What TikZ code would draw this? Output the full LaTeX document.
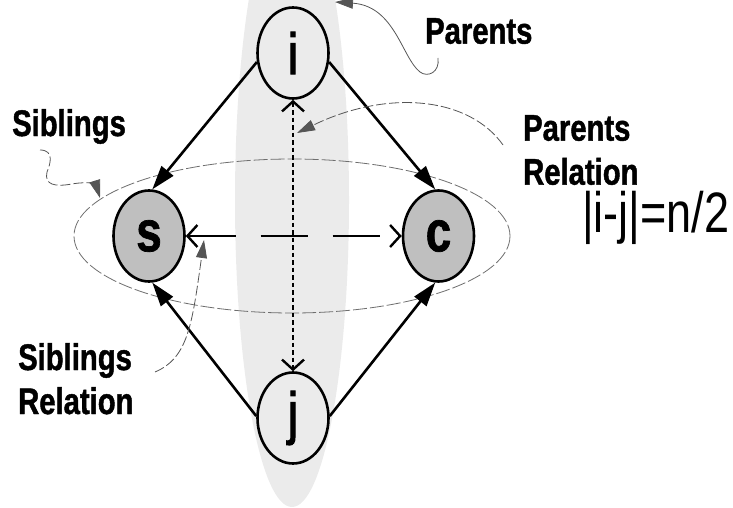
\documentclass[tikz,border=0pt]{standalone}
\usepackage{fontspec}
\setmainfont{Liberation Sans}[FakeStretch=0.79, BoldFeatures={FakeBold=1.2}]
\newfontfamily\heavyfont{Liberation Sans}[FakeStretch=0.79, FakeBold=2]
\usetikzlibrary{arrows.meta,shapes.geometric}
\definecolor{nodegray}{HTML}{BFBFBF}
\definecolor{bandgray}{HTML}{EBEBEB}
\definecolor{leadgray}{HTML}{555555}
\begin{document}
\begin{tikzpicture}[x=1pt,y=-1pt,
  member/.style={draw, ellipse, line width=2.6pt, minimum width=71pt, minimum height=91pt, inner sep=0pt, font=\fontsize{58}{58}\heavyfont},
  kid/.style={member, fill=nodegray, font=\fontsize{58}{58}\selectfont\bfseries},
  edgearrow/.style={line width=2.6pt, -{Triangle[length=24pt,width=15pt]}},
  relline/.style={line width=2.4pt, {Straight Barb[length=10pt,width=22pt]}-{Straight Barb[length=10pt,width=22pt]}},
  lead/.style={leadgray, line width=0.8pt, -{Triangle[length=18pt,width=11pt]}},
  leaddash/.style={lead, dash pattern=on 10pt off 3pt},
  lbl/.style={inner sep=0pt, font=\fontsize{37}{44}\selectfont\bfseries, align=left},
]
\useasboundingbox (0,0) rectangle (733,508);
\begin{scope}
  \clip (0,0) rectangle (733,508);
  \fill[bandgray] (292,200) ellipse [x radius=57, y radius=307];
\end{scope}
\draw[leadgray!85, line width=0.8pt, dash pattern=on 14pt off 3pt] (292,236) ellipse [x radius=218, y radius=77];

% nodes
\node[member] (i) at (293,53) {i};
\node[member] (j) at (293,418) {j};
\node[kid] (s) at (149,236) {s};
\node[kid] (c) at (438.5,236) {c};

% relations
\draw[edgearrow] (i.194) -- (s.86);
\draw[edgearrow] (i.346) -- (c.94);
\draw[edgearrow] (j.177) -- (s.274);
\draw[edgearrow] (j.3) -- (c.266);
\draw[relline, dash pattern=on 4.5pt off 3pt] (i.south) -- (j.north);
\draw[relline, dash pattern=on 47pt off 25pt] (s.east) -- (c.west);

% labels
\node[lbl, anchor=north west] (parents) at (425,18) {Parents};
\node[lbl, anchor=north west] (sib) at (12,109) {Siblings};
\node[lbl, anchor=north west] (prel) at (523,115) {Parents\\Relation};
\node[lbl, anchor=north west] (srel) at (18,343) {Siblings\\Relation};
\node[inner sep=0pt, anchor=west, font=\fontsize{57}{57}\selectfont] (formula) at (582,218) {|i-j|=n/2};

% callout leaders
\coordinate (pA) at (438,58);
\coordinate (pB) at (335,2);
\draw[lead] (pA) .. controls (440,72) and (428,78) .. (420,72) .. controls (402,58) and (395,6) .. (pB);
\coordinate (prA) at (503,145);
\coordinate (prB) at (297,133);
\draw[leaddash] (prA) .. controls (470,98) and (390,88) .. (prB);
\coordinate (sA) at (40,150);
\coordinate (sB) at (100,198);
\draw[leaddash] (sA) .. controls (55,150) and (50,165) .. (47,172) .. controls (44,185) and (55,187) .. (72,184) .. controls (88,181) and (96,185) .. (sB);
\coordinate (srA) at (155,372);
\coordinate (srB) at (204,240);
\draw[leaddash] (srA) .. controls (188,358) and (192,325) .. (srB);
\end{tikzpicture}
\end{document}
